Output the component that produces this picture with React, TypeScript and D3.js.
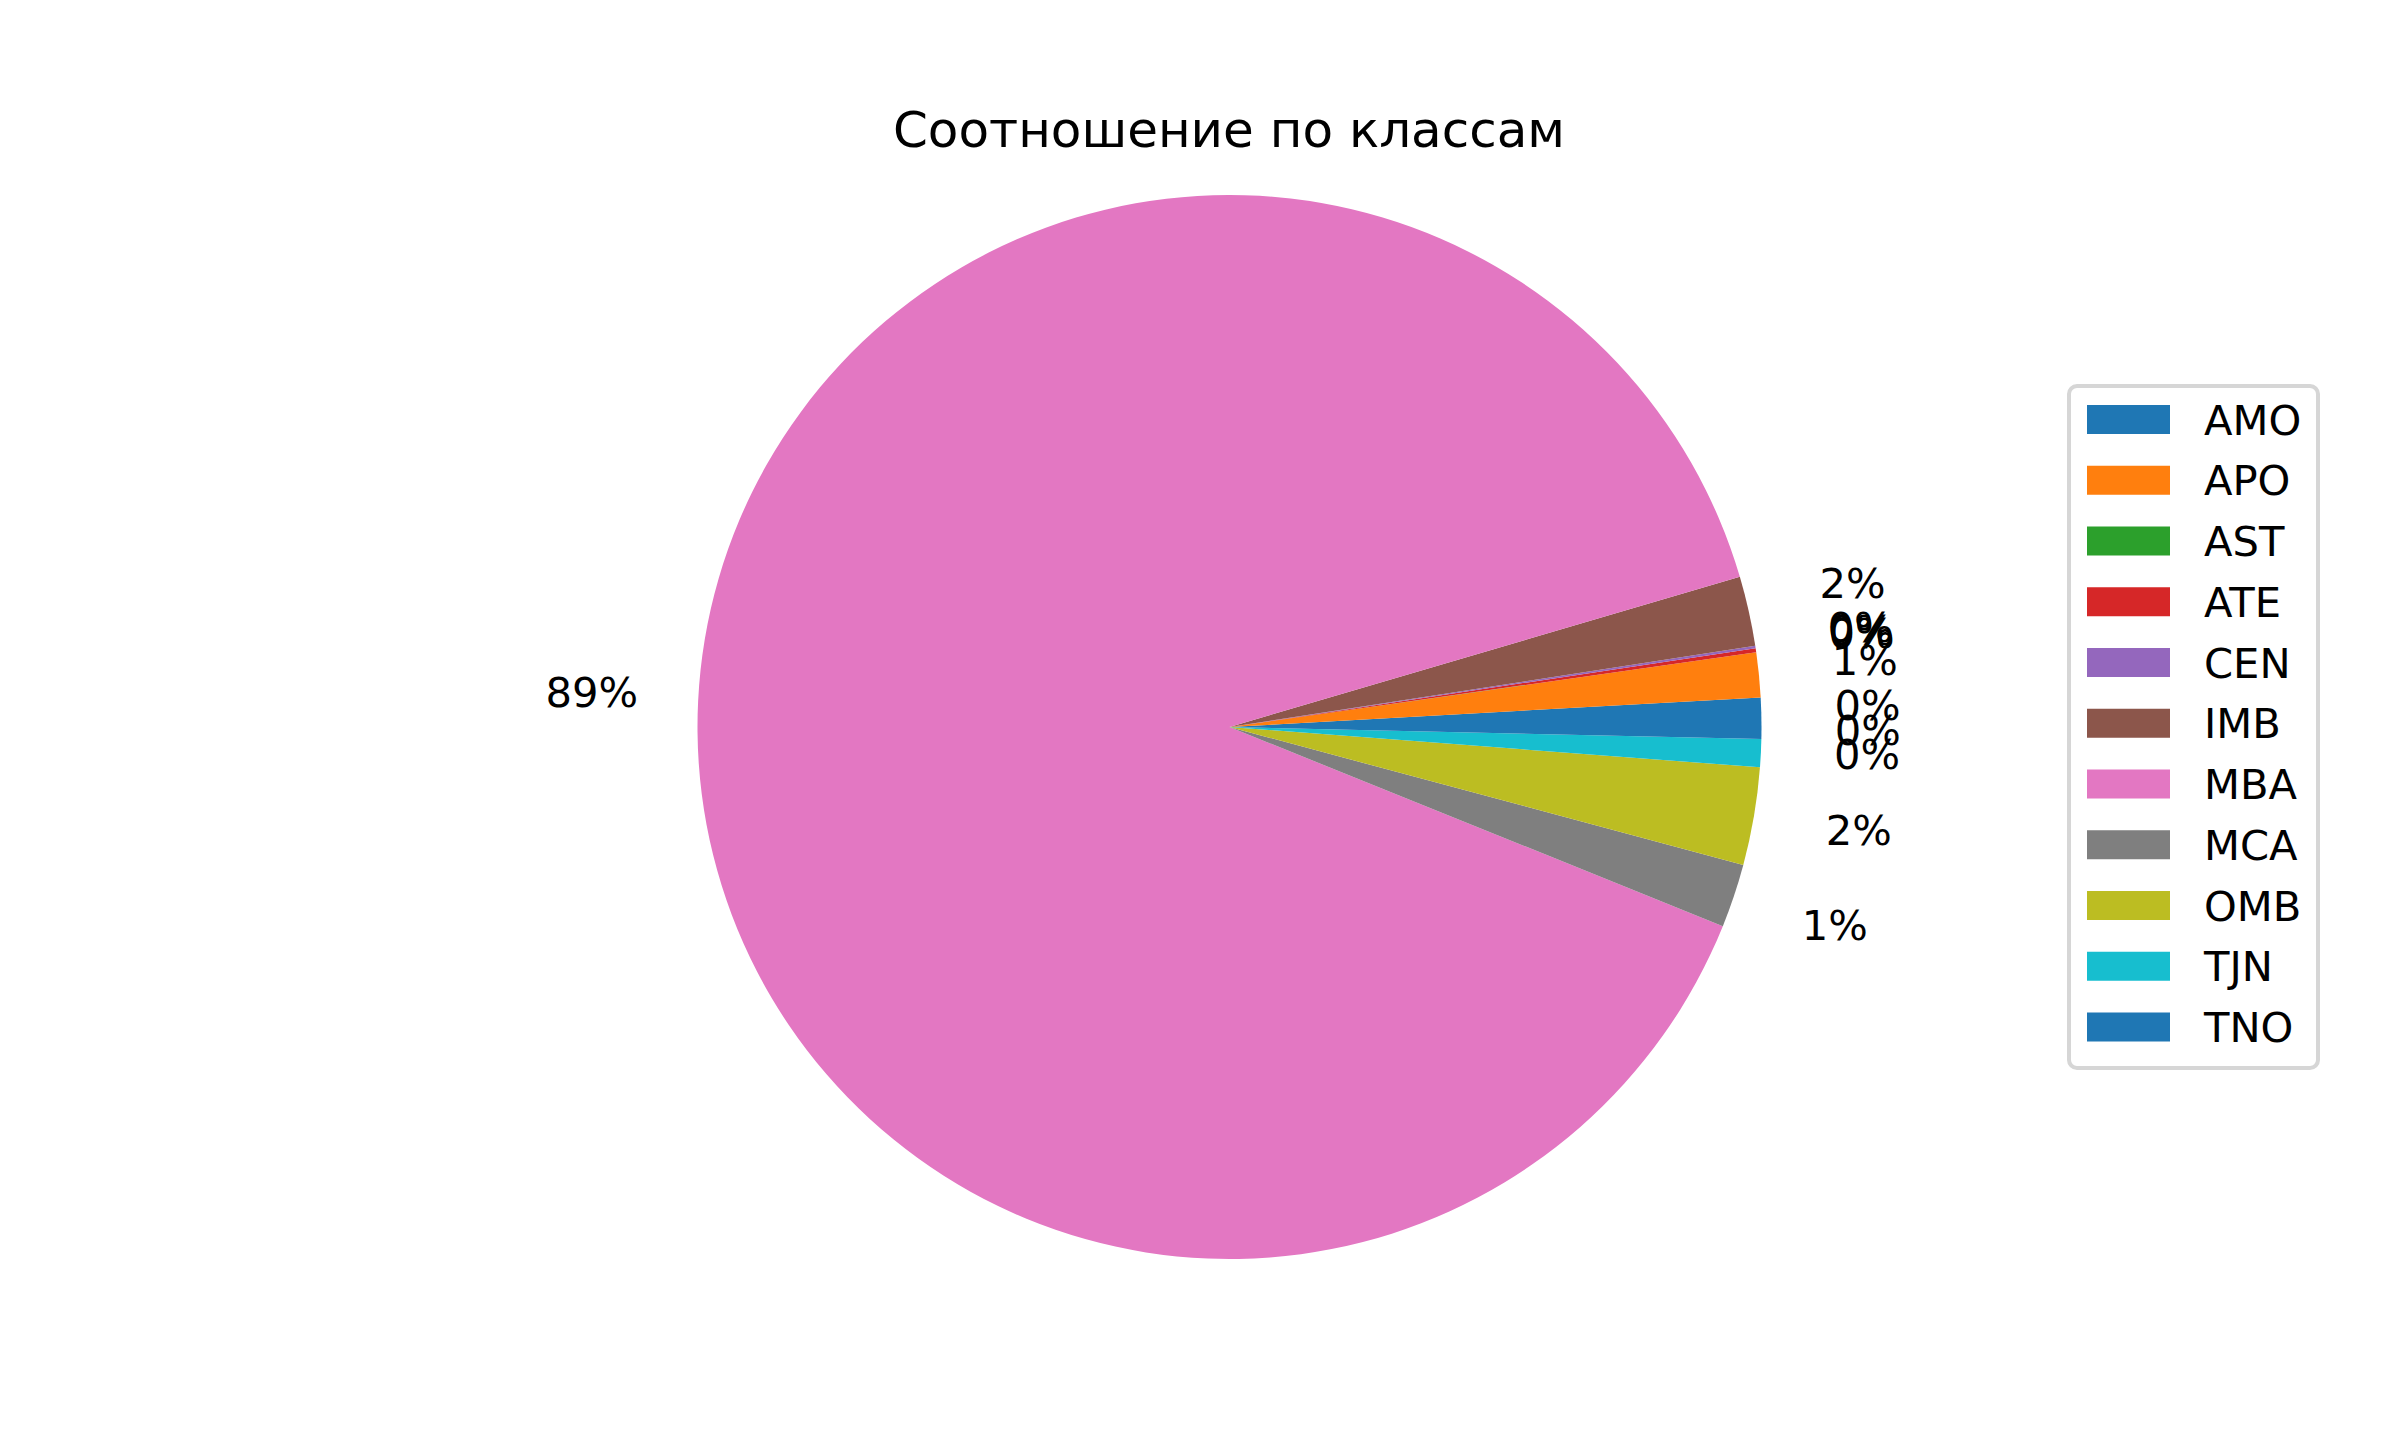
import React from "react";
import * as d3 from "d3";

const categories = ["AMO", "APO", "AST", "ATE", "CEN", "IMB", "MBA", "MCA", "OMB", "TJN", "TNO"];
const shares = [0.886, 1.356, 0.005, 0.119, 0.072, 2.119, 89.34, 1.931, 2.967, 0.85, 0.358];
const palette = ["#1f77b4", "#ff7f0e", "#2ca02c", "#d62728", "#9467bd", "#8c564b", "#e377c2", "#7f7f7f", "#bcbd22", "#17becf"];
const title = "Соотношение по классам";

const W = 2400;
const H = 1440;
const cx = 1229.5;
const cy = 727;
const R = 532;
const fs = 41.67;
const font = "DejaVu Sans";

export default function App() {
  const total = d3.sum(shares);
  const color = (i: number) => palette[i % palette.length];
  const pie = d3
    .pie<number>()
    .sort(null)
    .value((d) => d)
    .startAngle(Math.PI / 2)
    .endAngle(Math.PI / 2 - 2 * Math.PI);
  const arcs = pie(shares);
  const arcGen = d3.arc<d3.PieArcDatum<number>>().innerRadius(0).outerRadius(R);
  const labelR = R * 1.2;

  const legX = 2069;
  const legY = 386;
  const legW = 249;
  const legH = 682;
  const rowY = d3.scaleLinear().domain([0, 10]).range([419.5, 1027]);

  return (
    <svg
      width={W}
      height={H}
      style={{ position: "absolute", left: 0, top: 0, background: "#fff" }}
      fontFamily={font}
    >
      <rect x={0} y={0} width={W} height={H} fill="#fff" />
      <text x={1229} y={146.5} fontSize={50} textAnchor="middle" fill="#000">
        {title}
      </text>
      <g transform={`translate(${cx},${cy})`}>
        {arcs.map((a, i) => (
          <path key={categories[i]} d={arcGen(a) || ""} fill={color(i)} />
        ))}
        {arcs.map((a, i) => {
          const m = (a.startAngle + a.endAngle) / 2;
          const x = Math.sin(m) * labelR;
          const y = -Math.cos(m) * labelR;
          return (
            <text
              key={"l" + categories[i]}
              x={x}
              y={y + 0.255 * fs}
              fontSize={fs}
              textAnchor="middle"
              fill="#000"
            >
              {Math.floor((shares[i] / total) * 100) + "%"}
            </text>
          );
        })}
      </g>
      <rect
        x={legX}
        y={legY}
        width={legW}
        height={legH}
        rx={8}
        ry={8}
        fill="#fff"
        fillOpacity={0.8}
        stroke="#d6d6d6"
        strokeWidth={4}
      />
      {categories.map((c, i) => (
        <g key={"leg" + c}>
          <rect x={2087} y={rowY(i) - 14.5} width={83} height={29} fill={color(i)} />
          <text x={2204} y={rowY(i) + 0.365 * fs} fontSize={fs} fill="#000">
            {c}
          </text>
        </g>
      ))}
    </svg>
  );
}
